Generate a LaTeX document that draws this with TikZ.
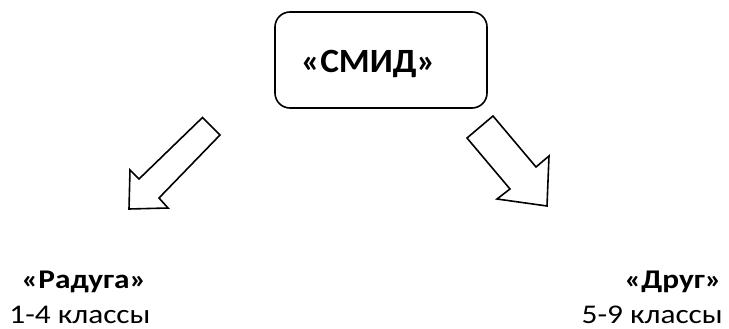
\documentclass[tikz,border=0pt]{standalone}
\usepackage{fontspec}
\setmainfont{Carlito}
\usetikzlibrary{calc}

\begin{document}
\begin{tikzpicture}[x=1pt,y=-1pt,
  title/.style={font=\fontsize{34}{40}\selectfont\bfseries, xscale=1.04, inner sep=0pt},
  label/.style={font=\fontsize{27}{32}\selectfont, xscale=1.16, inner sep=0pt},
  boldlabel/.style={label, font=\fontsize{27}{32}\selectfont\bfseries}]

\useasboundingbox (0,0) rectangle (729,329);

% top box
\draw[ultra thick, rounded corners=15pt] (275,12) rectangle (487,108);
\node[title, anchor=base west] (smid) at (301,72.5) {«СМИД»};

% left arrow
\draw[ultra thick, line join=miter] (202.5,117.5) -- (220,135) -- (159,198) -- (168,208)
  -- (129,209) -- (130,170) -- (139,179) -- cycle;

% right arrow
\draw[ultra thick, line join=miter] (493,116) -- (536,167) -- (549,156) -- (547,206)
  -- (497,199) -- (510,189) -- (467,138) -- cycle;

% left text
\node[boldlabel, anchor=base] (raduga) at (84,288) {«Радуга»};
\node[label, anchor=base] (klassy1) at (80,323) {1-4 классы};

% right text
\node[boldlabel, anchor=base east] (drug) at (722,288) {«Друг»};
\node[label, anchor=base east] (klassy2) at (723,323) {5-9 классы};

\end{tikzpicture}
\end{document}
